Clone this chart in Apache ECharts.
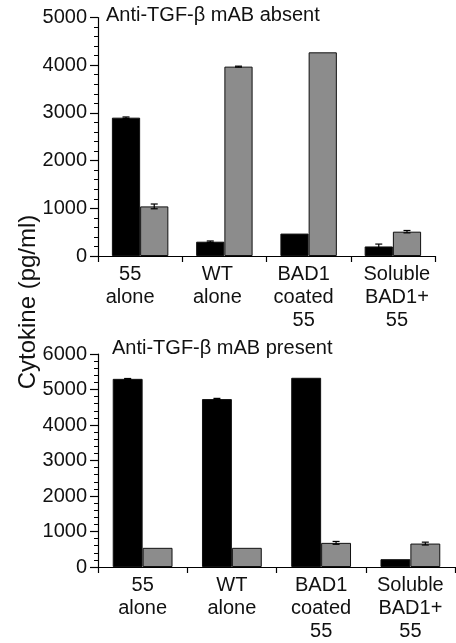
<!DOCTYPE html>
<html>
<head>
<meta charset="utf-8">
<script src="https://cdn.jsdelivr.net/npm/echarts@6/dist/echarts.min.js"></script>
<style>
html,body{margin:0;padding:0;background:#fff;}
#c{width:456px;height:643px;}
</style>
</head>
<body>
<div id="c"></div>
<script>
// ---- data ----
var categories = ['55\nalone', 'WT\nalone', 'BAD1\ncoated\n55', 'Soluble\nBAD1+\n55'];
var topTitle = 'Anti-TGF-\u03b2 mAB absent';
var bottomTitle = 'Anti-TGF-\u03b2 mAB present';
var yAxisName = 'Cytokine (pg/ml)';

var topBlack = [2900, 300, 470, 200];
var topBlackErr = [15, 15, 0, 50];
var topGray = [1040, 3970, 4270, 510];
var topGrayErr = [50, 10, 0, 25];

var bottomBlack = [5300, 4730, 5330, 220];
var bottomBlackErr = [10, 20, 0, 0];
var bottomGray = [540, 540, 680, 660];
var bottomGrayErr = [0, 0, 40, 40];

var topTicks = [0, 1000, 2000, 3000, 4000, 5000];
var bottomTicks = [0, 1000, 2000, 3000, 4000, 5000, 6000];

// ---- chart ----
var FONT = 'Liberation Sans, Arial, Helvetica, sans-serif';
var GAP = 0.33;
var chart = echarts.init(document.getElementById('c'), null, {renderer: 'canvas'});

function errRender(sign) {
  return function (params, api) {
    var xi = api.value(0), v = api.value(1), e = api.value(2);
    if (!e) return null;
    var band = api.size([1, 0])[0];
    var bw = band * (1 - GAP) / 2;
    var cx = api.coord([xi, v])[0] + sign * bw / 2;
    var yt = api.coord([xi, v + e])[1];
    var yb = api.coord([xi, v - e])[1];
    var hw = 3.5;
    var st = {stroke: '#000', lineWidth: 1.2};
    return {type: 'group', children: [
      {type: 'line', shape: {x1: cx, y1: yt, x2: cx, y2: yb}, style: st},
      {type: 'line', shape: {x1: cx - hw, y1: yt, x2: cx + hw, y2: yt}, style: st},
      {type: 'line', shape: {x1: cx - hw, y1: yb, x2: cx + hw, y2: yb}, style: st}
    ]};
  };
}
function errData(vals, errs) {
  return vals.map(function (v, i) { return [i, v, errs[i]]; });
}

var topLabelShift = [-10, -7, -5, 4];
function catData(shift) {
  return categories.map(function (c, i) {
    var s = shift ? shift[i] : 0;
    return {value: c, textStyle: {padding: s < 0 ? [0, -2 * s, 0, 0] : [0, 0, 0, 2 * s]}};
  });
}

function xAxisCfg(gi, shift) {
  return {
    type: 'category', gridIndex: gi, data: catData(shift),
    axisLine: {lineStyle: {color: '#000', width: 1.2}},
    axisTick: {show: true, length: 6, lineStyle: {color: '#000', width: 1.2}},
    axisLabel: {color: '#111', fontFamily: FONT, fontSize: 20, lineHeight: 23, margin: 7, interval: 0}
  };
}
function yAxisCfg(gi, max) {
  return {
    type: 'value', gridIndex: gi, min: 0, max: max, interval: 1000,
    axisLine: {show: true, lineStyle: {color: '#000', width: 1.2}},
    axisTick: {show: true, length: 8, lineStyle: {color: '#000', width: 1.2}},
    minorTick: {show: true, splitNumber: 5, length: 4, lineStyle: {color: '#000', width: 1}},
    splitLine: {show: false},
    axisLabel: {color: '#111', fontFamily: FONT, fontSize: 20, margin: 11,
      formatter: function (v) { return String(v); }}
  };
}
function barSeries(gi, vals, color) {
  return {
    type: 'bar', xAxisIndex: gi, yAxisIndex: gi, data: vals,
    barGap: '0%', barCategoryGap: (GAP * 100) + '%',
    itemStyle: {color: color, borderColor: '#111', borderWidth: 1},
    emphasis: {disabled: true}
  };
}

chart.setOption({
  animation: false,
  backgroundColor: '#fff',
  grid: [
    {left: 98, top: 17.5, width: 337, height: 238.5},
    {left: 98, top: 354, width: 357, height: 216.7}
  ],
  xAxis: [xAxisCfg(0, topLabelShift), xAxisCfg(1, null)],
  yAxis: [yAxisCfg(0, topTicks[topTicks.length - 1]), yAxisCfg(1, bottomTicks[bottomTicks.length - 1])],
  series: [
    barSeries(0, topBlack, '#000'),
    barSeries(0, topGray, '#8c8c8c'),
    barSeries(1, bottomBlack, '#000'),
    barSeries(1, bottomGray, '#8c8c8c'),
    {type: 'custom', xAxisIndex: 0, yAxisIndex: 0, renderItem: errRender(-1), data: errData(topBlack, topBlackErr), z: 5},
    {type: 'custom', xAxisIndex: 0, yAxisIndex: 0, renderItem: errRender(1), data: errData(topGray, topGrayErr), z: 5},
    {type: 'custom', xAxisIndex: 1, yAxisIndex: 1, renderItem: errRender(-1), data: errData(bottomBlack, bottomBlackErr), z: 5},
    {type: 'custom', xAxisIndex: 1, yAxisIndex: 1, renderItem: errRender(1), data: errData(bottomGray, bottomGrayErr), z: 5}
  ],
  graphic: [
    {type: 'text', x: 106, y: 15, style: {text: topTitle, font: '20px ' + FONT, fill: '#111', textAlign: 'left', textVerticalAlign: 'middle'}},
    {type: 'text', x: 112, y: 348, style: {text: bottomTitle, font: '20px ' + FONT, fill: '#111', textAlign: 'left', textVerticalAlign: 'middle'}},
    {type: 'text', x: 28, y: 302, rotation: Math.PI / 2, style: {text: yAxisName, font: '24px ' + FONT, fill: '#111', textAlign: 'center', textVerticalAlign: 'middle'}}
  ]
});
</script>
</body>
</html>
